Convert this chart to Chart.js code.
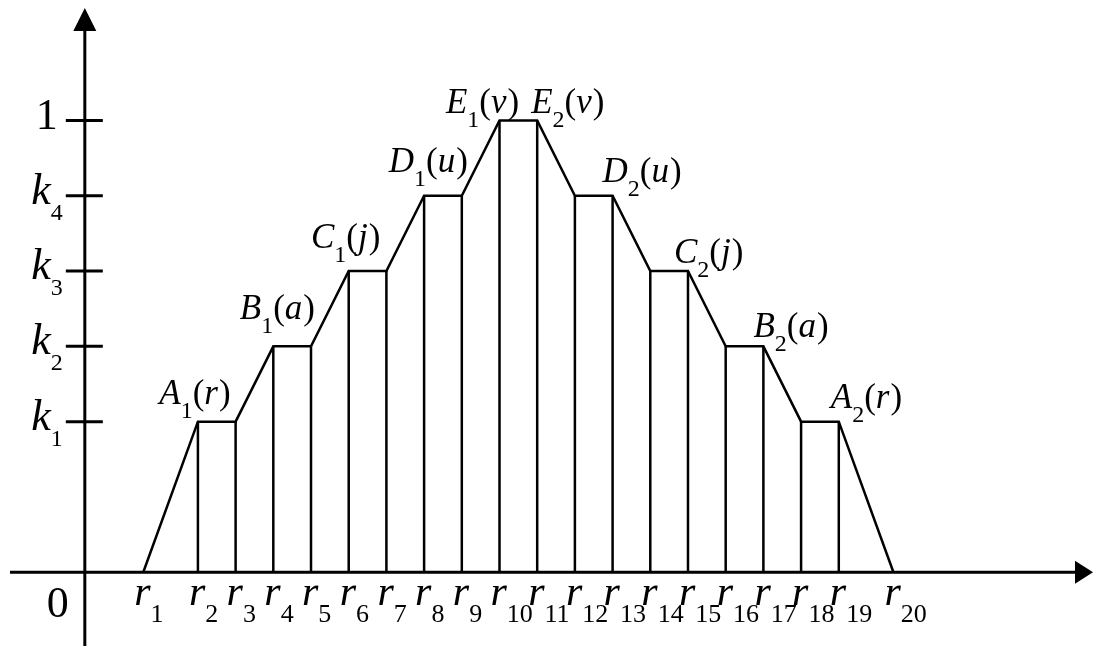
<!DOCTYPE html>
<html>
<head>
<meta charset="utf-8">
<script src="https://cdn.jsdelivr.net/npm/chart.js@4/dist/chart.umd.min.js"></script>
<style>
  html, body { margin: 0; padding: 0; background: #fff; }
  #wrap { width: 1094px; height: 646px; position: relative; }
</style>
</head>
<body>
<div id="wrap"><canvas id="chart"></canvas></div>
<script>
// r positions on the horizontal axis and the membership level at each one
const rPos = [1.55, 3, 4, 5, 6, 7, 8, 9, 10, 11, 12, 13, 14, 15, 16, 17, 18, 19, 20, 21.45];
const mu = [0, 2, 2, 3, 3, 4, 4, 5, 5, 6, 6, 5, 5, 4, 4, 3, 3, 2, 2, 0];
const rSubs = ['1','2','3','4','5','6','7','8','9','10','11','12','13','14','15','16','17','18','19','20'];

// y levels: k1..k4 and 1
const levelVals = [2, 3, 4, 5, 6];
const levelMain = ['k', 'k', 'k', 'k', '1'];
const levelSubs = ['1', '2', '3', '4', ''];

// names of the flat segments
const peakLetters = ['A', 'B', 'C', 'D', 'E'];
const peakArgs = ['r', 'a', 'j', 'u', 'v'];

const SERIF = '"Liberation Serif", "Times New Roman", serif';

// polyline through all r points
const outline = rPos.map((x, i) => ({ x: x, y: mu[i] }));

// vertical lines from r2 to r19
const verticals = [];
for (let i = 1; i < rPos.length - 1; i++) {
  verticals.push({ x: rPos[i], y: 0 }, { x: rPos[i], y: mu[i] }, { x: rPos[i], y: null });
}

function drawParts(ctx, parts, x, y, align) {
  let w = 0;
  parts.forEach(p => { ctx.font = p.font; w += ctx.measureText(p.t).width + (p.gap || 0); });
  let cx = align === 'right' ? x - w : (align === 'center' ? x - w / 2 : x);
  ctx.textAlign = 'left';
  ctx.textBaseline = 'alphabetic';
  parts.forEach(p => {
    ctx.font = p.font;
    ctx.fillText(p.t, cx, y + (p.dy || 0));
    cx += ctx.measureText(p.t).width + (p.gap || 0);
  });
}

function pointLabel(letter, idx, arg) {
  return [
    { t: letter, font: 'italic 35px ' + SERIF },
    { t: String(idx), font: '24px ' + SERIF, dy: 14 },
    { t: '(', font: '35px ' + SERIF },
    { t: arg, font: 'italic 35px ' + SERIF, gap: 1 },
    { t: ')', font: '35px ' + SERIF }
  ];
}

// pixel nudges for the segment names: [dx, dy] from the end of the flat part
const leftNudge = [[-5, -18], [4, -27], [-6, -23], [6, -24], [-18, -7]];
const rightNudge = [[-8, -14], [-10, -9], [-14, -8], [-10, -14], [-6, -7]];

const diagram = {
  id: 'diagram',
  afterDatasetsDraw(chart) {
    const ctx = chart.ctx;
    const xs = chart.scales.x, ys = chart.scales.y;
    const x0 = xs.getPixelForValue(0), y0 = ys.getPixelForValue(0);
    const W = chart.width, H = chart.height;
    ctx.save();
    ctx.strokeStyle = '#000';
    ctx.fillStyle = '#000';
    ctx.lineWidth = 3;

    // axes
    ctx.beginPath();
    ctx.moveTo(x0, H);
    ctx.lineTo(x0, 28);
    ctx.moveTo(10, y0);
    ctx.lineTo(W - 16, y0);
    ctx.stroke();
    ctx.beginPath();
    ctx.moveTo(x0, 8);
    ctx.lineTo(x0 - 11.5, 31);
    ctx.lineTo(x0 + 11.5, 31);
    ctx.closePath();
    ctx.fill();
    ctx.beginPath();
    ctx.moveTo(W - 1, y0);
    ctx.lineTo(W - 19, y0 - 11.5);
    ctx.lineTo(W - 19, y0 + 11.5);
    ctx.closePath();
    ctx.fill();

    // y ticks and labels
    levelVals.forEach((v, i) => {
      const py = ys.getPixelForValue(v);
      ctx.beginPath();
      ctx.moveTo(x0 - 19, py);
      ctx.lineTo(x0 + 18, py);
      ctx.stroke();
      if (levelSubs[i]) {
        drawParts(ctx, [
          { t: levelMain[i], font: 'italic 44px ' + SERIF },
          { t: levelSubs[i], font: '24px ' + SERIF, dy: 16 }
        ], x0 - 22, py + 8, 'right');
      } else {
        drawParts(ctx, [{ t: levelMain[i], font: '44px ' + SERIF }], x0 - 27, py + 9, 'right');
      }
    });

    // origin
    drawParts(ctx, [{ t: '0', font: '44px ' + SERIF }], x0 - 27, y0 + 45, 'center');

    // r labels
    rPos.forEach((v, i) => {
      const px = xs.getPixelForValue(v);
      drawParts(ctx, [
        { t: 'r', font: 'italic 42px ' + SERIF },
        { t: rSubs[i], font: '26px ' + SERIF, dy: 17 }
      ], px - 9, y0 + 33, 'left');
    });

    // segment names, rising side
    peakLetters.forEach((L, i) => {
      const end = 2 * i + 2;
      const px = xs.getPixelForValue(rPos[end]) + leftNudge[i][0];
      const py = ys.getPixelForValue(mu[end]) + leftNudge[i][1];
      drawParts(ctx, pointLabel(L, 1, peakArgs[i]), px, py, 'right');
    });
    // falling side
    peakLetters.forEach((L, i) => {
      const end = rPos.length - 2 - 2 * i;
      const px = xs.getPixelForValue(rPos[end]) + rightNudge[i][0];
      const py = ys.getPixelForValue(mu[end]) + rightNudge[i][1];
      drawParts(ctx, pointLabel(L, 2, peakArgs[i]), px, py, 'left');
    });
    ctx.restore();
  }
};

new Chart(document.getElementById('chart'), {
  type: 'line',
  data: {
    datasets: [{
      data: outline,
      borderColor: '#000',
      borderWidth: 2.5,
      pointRadius: 0,
      tension: 0,
      fill: false
    }, {
      data: verticals,
      borderColor: '#000',
      borderWidth: 2.5,
      pointRadius: 0,
      spanGaps: false,
      fill: false
    }]
  },
  options: {
    responsive: true,
    maintainAspectRatio: false,
    animation: false,
    layout: { padding: 0 },
    scales: {
      x: { type: 'linear', min: -2.25, max: 26.77, display: false },
      y: { type: 'linear', min: -0.98, max: 7.6, display: false }
    },
    plugins: {
      legend: { display: false },
      tooltip: { enabled: false }
    }
  },
  plugins: [diagram]
});
</script>
</body>
</html>
